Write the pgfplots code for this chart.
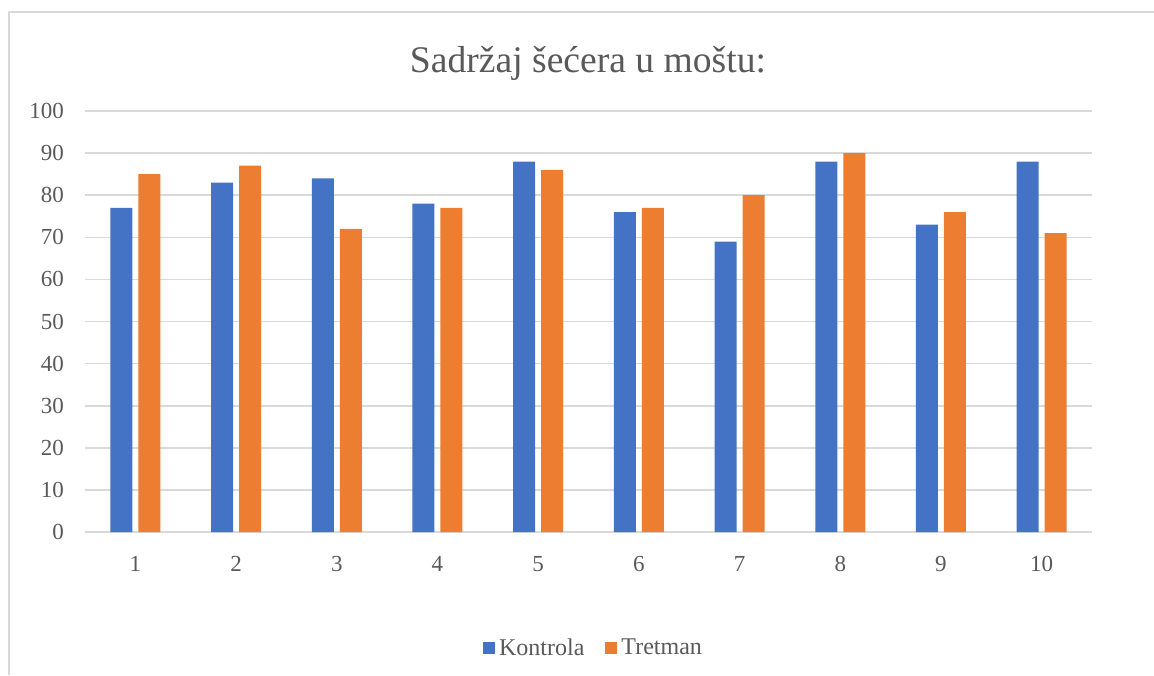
\documentclass[border=0pt]{standalone}
\usepackage{pgfplots}
\pgfplotsset{compat=1.18}
\usepackage{fontspec}
\setmainfont{Liberation Serif}
\definecolor{cblue}{HTML}{4472C4}
\definecolor{corange}{HTML}{ED7D31}
\definecolor{cgrid}{HTML}{D9D9D9}
\definecolor{ctext}{HTML}{595959}
\begin{document}
\begin{tikzpicture}[x=0.5pt,y=0.5pt]
\useasboundingbox (0,0) rectangle (1154,675);
\draw[cgrid,line width=1pt] (9,0) -- (9,663) -- (1154,663);
\node[text=ctext,font=\fontsize{18.8pt}{22pt}\selectfont] at (588,612) {Sadržaj šećera u moštu:};
\begin{axis}[
  at={(42.5pt,71.5pt)}, anchor=south west,
  scale only axis, width=503.5pt, height=210.5pt,
  xmin=0.5, xmax=10.5, ymin=0, ymax=100,
  xtick={1,...,10}, ytick={0,10,...,100},
  ymajorgrids, grid style={cgrid,line width=0.8pt},
  axis line style={draw=none}, tick style={draw=none},
  ybar, bar width=11pt,
  /pgf/number format/assume math mode=true,
  ticklabel style={text=ctext,font=\fontsize{11.5pt}{13pt}\selectfont},
  yticklabel style={xshift=-7pt},
  xticklabel style={yshift=-4.5pt},
  legend columns=2,
  legend style={at={(0.5,-0.276)},anchor=center,draw=none,xshift=3pt,
    font=\fontsize{12pt}{14pt}\selectfont,text=ctext,
    /tikz/every even column/.append style={column sep=8.5pt}},
  legend image code/.code={\fill[#1] (-1.5pt,-3pt) rectangle (4.5pt,3pt);},
]
\addplot[fill=cblue,draw=none,bar shift=-7pt] coordinates {(1,77) (2,83) (3,84) (4,78) (5,88) (6,76) (7,69) (8,88) (9,73) (10,88)};
\addplot[fill=corange,draw=none,bar shift=7pt] coordinates {(1,85) (2,87) (3,72) (4,77) (5,86) (6,77) (7,80) (8,90) (9,76) (10,71)};
\legend{Kontrola,Tretman}
\end{axis}
\end{tikzpicture}
\end{document}
